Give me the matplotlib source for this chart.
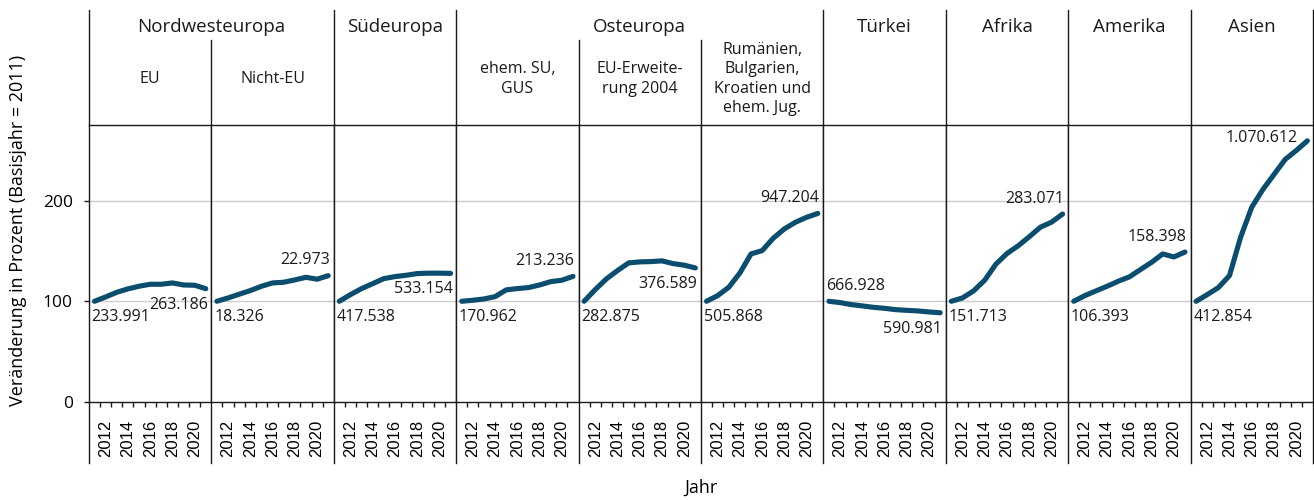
# -*- coding: utf-8 -*-
'''
Veränderung der Zahl ausländischer Staatsangehöriger nach Herkunftsregion (2011 = 100)
'''

import matplotlib
matplotlib.use('Agg')
import matplotlib.pyplot as plt
from matplotlib.lines import Line2D

# -----------Daten---------------
years = list(range(2011, 2022))

nw_eu = [100, 104.3, 108.9, 112.3, 114.9, 116.9, 116.9, 118.2, 116.2, 115.9, 112.5]
nw_nicht_eu = [100, 103.3, 107.0, 110.6, 114.9, 118.2, 118.9, 121.2, 123.8, 121.9, 125.4]
sued = [100, 106.6, 112.6, 117.5, 122.5, 124.5, 125.8, 127.5, 127.9, 127.9, 127.7]
ost_su = [100, 101.0, 102.3, 104.6, 111.3, 112.6, 113.6, 116.2, 119.5, 120.9, 124.7]
ost_eu2004 = [100, 111.6, 122.2, 130.5, 138.1, 139.1, 139.4, 140.1, 137.4, 135.8, 133.1]
ost_rbk = [100, 105.6, 113.9, 128.1, 147.0, 150.3, 162.6, 171.9, 178.5, 183.4, 187.2]
tuerkei = [100, 98.7, 96.7, 95.4, 94.0, 93.0, 91.7, 91.0, 90.4, 89.4, 88.6]
afrika = [100, 103.3, 110.3, 120.9, 136.8, 147.4, 155.0, 164.0, 173.5, 178.5, 186.6]
amerika = [100, 105.6, 110.3, 114.9, 119.9, 124.2, 131.5, 138.7, 147.0, 144.0, 148.9]
asien = [100, 106.6, 113.6, 125.5, 163.6, 193.4, 211.0, 225.9, 240.8, 249.7, 259.3]

series = [nw_eu, nw_nicht_eu, sued, ost_su, ost_eu2004, ost_rbk,
          tuerkei, afrika, amerika, asien]

start_labels = ['233.991', '18.326', '417.538', '170.962', '282.875',
                '505.868', '666.928', '151.713', '106.393', '412.854']
end_labels = ['263.186', '22.973', '533.154', '213.236', '376.589',
              '947.204', '590.981', '283.071', '158.398', '1.070.612']

sub_labels = ['EU', 'Nicht-EU', '', 'ehem. SU,\nGUS', 'EU-Erweite-\nrung 2004',
              'Rumänien,\nBulgarien,\nKroatien und\nehem. Jug.', '', '', '', '']

# (Name, erstes Panel, letztes Panel + 1)
groups = [('Nordwesteuropa', 0, 2), ('Südeuropa', 2, 3), ('Osteuropa', 3, 6),
          ('Türkei', 6, 7), ('Afrika', 7, 8), ('Amerika', 8, 9), ('Asien', 9, 10)]

# -----------Stil---------------
line_color = '#0a4d6e'
edge_color = '#1a1a1a'
grid_color = '#cccccc'
label_font = ['Open Sans', 'DejaVu Sans']
axis_font = ['Liberation Sans', 'DejaVu Sans']

# Lage der Beschriftungen (Offset in pt)
start_pos = ['below'] * 6 + ['above'] + ['below'] * 3
end_pos = ['below', 'above', 'below', 'above', 'below', 'above',
           'below', 'above', 'above', 'left']
offsets = {'below': (1.5, -11.5), 'above': (1, 11), 'left': (-7, 2)}

plt.rcParams['font.family'] = axis_font

fig, axes = plt.subplots(1, 10, figsize=(13.14, 5), dpi=100, sharey=True,
                         gridspec_kw={'wspace': 0})
fig.subplots_adjust(left=0.0677, right=0.9992, bottom=0.196, top=0.75)

for i, ax in enumerate(axes):
    vals = series[i]
    for g in (100, 200):
        ax.axhline(g, color=grid_color, lw=1, zorder=1)
    ax.plot(years, vals, color=line_color, lw=3.7, solid_capstyle='round',
            solid_joinstyle='round', zorder=3, clip_on=False)

    ax.set_xlim(2010.5, 2021.5)
    ax.set_ylim(0, 275)
    ax.set_xticks([2012, 2014, 2016, 2018, 2020])
    ax.set_xticklabels(['2012', '2014', '2016', '2018', '2020'],
                       rotation=90, fontsize=12, va='top')
    ax.set_xticks([y + 0.5 for y in range(2011, 2021)], minor=True)
    ax.tick_params(axis='x', which='major', length=0, pad=13)
    ax.tick_params(axis='x', which='minor', length=3.6, width=1,
                   color=edge_color, direction='out')
    for s in ax.spines.values():
        s.set_color(edge_color)
        s.set_linewidth(1)

    # Beschriftung Anfangs- und Endwert
    sp = start_pos[i]
    dy = offsets[sp][1]
    ax.annotate(start_labels[i], xy=(years[0], vals[0]), xytext=(-2, dy),
                textcoords='offset points', ha='left', va='center',
                fontsize=11.5, family=label_font, color='#1a1a1a', zorder=4)
    ep = end_pos[i]
    ax.annotate(end_labels[i], xy=(years[-1], vals[-1]), xytext=offsets[ep],
                textcoords='offset points', ha='right', va='center',
                fontsize=11.5, family=label_font, color='#1a1a1a', zorder=4)

    if i > 0:
        ax.tick_params(axis='y', left=False)

axes[0].set_yticks([0, 100, 200])
axes[0].tick_params(axis='y', length=3.6, width=1, color=edge_color,
                    labelsize=12.5, pad=8)
for t in axes[0].get_yticklabels():
    t.set_family(label_font)

# -----------Kopfzeilen und Trennlinien---------------
xs = [ax.get_position().x0 for ax in axes] + [axes[-1].get_position().x1]
top_ax = axes[0].get_position().y1
bottom_ax = axes[0].get_position().y0
y_head_top = 1 - 9.5 / 500
y_sub_top = 1 - 40 / 500
y_low = 1 - 463 / 500

for x in xs:
    fig.add_artist(Line2D([x, x], [y_low, bottom_ax], transform=fig.transFigure,
                          color=edge_color, lw=1))

group_edges = set()
for name, a, b in groups:
    group_edges.add(a)
    group_edges.add(b)
    fig.text((xs[a] + xs[b]) / 2, 1 - 27 / 500, name, ha='center', va='center',
             fontsize=13.5, family=label_font, color='#1a1a1a')

for k, x in enumerate(xs):
    y0 = y_head_top if k in group_edges else y_sub_top
    fig.add_artist(Line2D([x, x], [top_ax, y0], transform=fig.transFigure,
                          color=edge_color, lw=1))

for i, lab in enumerate(sub_labels):
    if lab:
        fig.text((xs[i] + xs[i + 1]) / 2, 1 - 79 / 500, lab, ha='center',
                 va='center', fontsize=11.5, family=label_font,
                 linespacing=1.3, color='#1a1a1a')

# -----------Achsentitel---------------
fig.text(0.014, 1 - 230 / 500, 'Veränderung in Prozent (Basisjahr = 2011)',
         rotation=90, ha='center', va='center', fontsize=13, family=label_font)
fig.text((xs[0] + xs[-1]) / 2, 1 - 488 / 500, 'Jahr', ha='center',
         va='center', fontsize=13, family=label_font)

fig.savefig('out.png', dpi=100)
plt.close(fig)
